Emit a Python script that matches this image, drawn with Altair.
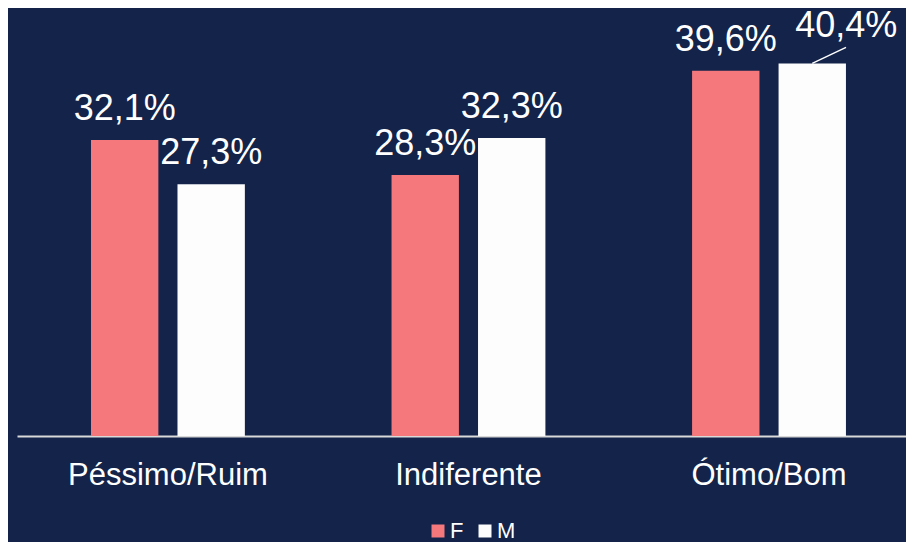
import altair as alt
import pandas as pd

categorias = ["Péssimo/Ruim", "Indiferente", "Ótimo/Bom"]
sexos = ["F", "M"]
valores_F = [32.1, 28.3, 39.6]
valores_M = [27.3, 32.3, 40.4]
rotulos_F = ["32,1%", "28,3%", "39,6%"]
rotulos_M = ["27,3%", "32,3%", "40,4%"]

rows = []
for i, c in enumerate(categorias):
    rows.append(dict(Categoria=c, Sexo="F", Valor=valores_F[i], Rotulo=rotulos_F[i]))
    rows.append(dict(Categoria=c, Sexo="M", Valor=valores_M[i], Rotulo=rotulos_M[i]))
df = pd.DataFrame(rows)

BG = "#13234a"
PINK = "#f4787c"
WHITE = "#fdfdfd"
FONT = "Liberation Sans"

x = alt.X(
    "Categoria:N",
    sort=categorias,
    scale=alt.Scale(paddingInner=0.488, paddingOuter=0.223, align=0.552),
    axis=alt.Axis(
        title=None, labelAngle=0, labelFontSize=31, labelColor="white",
        labelFont=FONT, domainColor="#d9d9d9", domainWidth=2, ticks=False,
        labelPadding=24, grid=False, labelLimit=0,
    ),
)
xo = alt.XOffset("Sexo:N", sort=sexos, scale=alt.Scale(paddingInner=0.221, paddingOuter=0))
y = alt.Y("Valor:Q", scale=alt.Scale(domain=[0, 45]), axis=None)

bars = alt.Chart(df).mark_bar().encode(
    x=x, xOffset=xo, y=y,
    color=alt.Color(
        "Sexo:N", sort=sexos,
        scale=alt.Scale(domain=sexos, range=[PINK, WHITE]),
        legend=alt.Legend(
            title=None, orient="none", legendX=410, legendY=499,
            direction="horizontal", symbolType="square", symbolSize=169,
            symbolStrokeWidth=0, labelFontSize=22, labelColor="white",
            labelFont=FONT, labelOffset=1, columnPadding=10,
        ),
    ),
)

normal = df[~((df.Categoria == "Ótimo/Bom") & (df.Sexo == "M"))]
special = df[(df.Categoria == "Ótimo/Bom") & (df.Sexo == "M")]

labels = alt.Chart(normal).mark_text(
    dy=-20, baseline="alphabetic", fontSize=36, color="white", font=FONT
).encode(x=x, xOffset=xo, y=y, text="Rotulo:N")

label_sp = alt.Chart(special).mark_text(
    dx=34, dy=-26, baseline="alphabetic", fontSize=36, color="white", font=FONT
).encode(x=x, xOffset=xo, y=y, text="Rotulo:N")

leader = alt.Chart(special).mark_rule(
    color="white", strokeWidth=1.5, x2Offset=77, y2Offset=-16
).encode(x=x, xOffset=xo, y=y, x2="Categoria:N", y2="Valor:Q")

chart = alt.layer(bars, labels, label_sp, leader).properties(
    width=889, height=415, background=BG,
    autosize=alt.AutoSizeParams(type="none"),
    padding={"left": 9, "top": 13, "right": 0, "bottom": 106},
).configure(font=FONT).configure_view(strokeWidth=0, stroke="transparent")

chart.save("out.html", embed_options={"renderer": "svg", "actions": False})
